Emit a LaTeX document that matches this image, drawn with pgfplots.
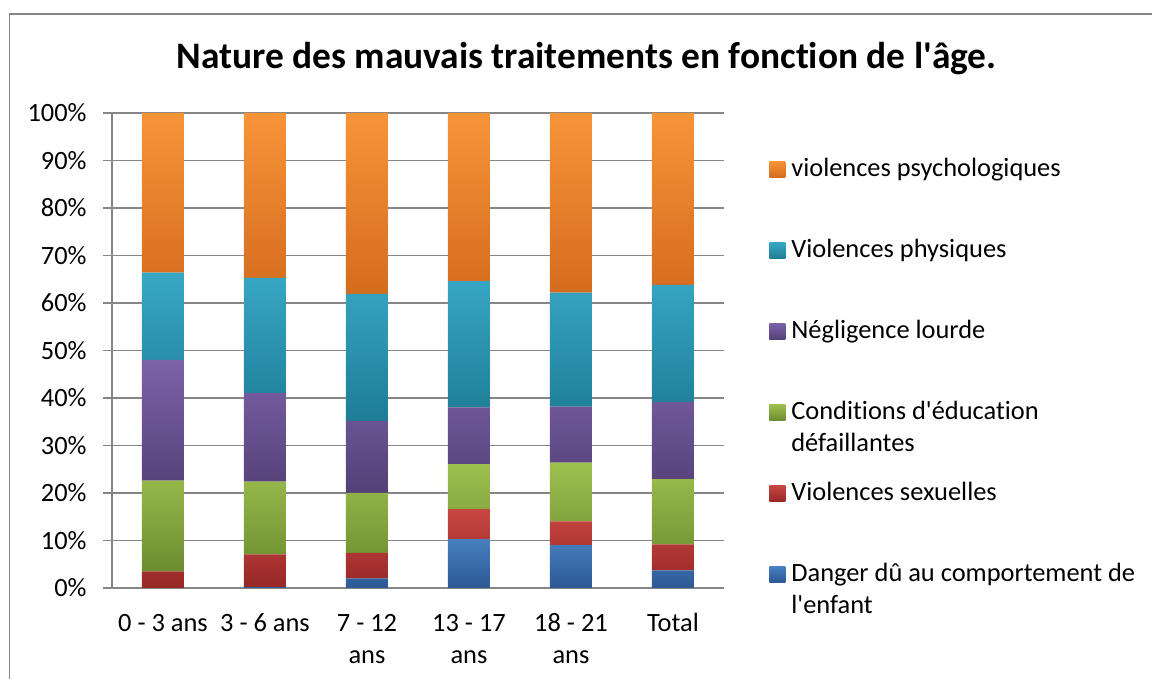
\documentclass[border=0pt]{standalone}
\usepackage{pgfplots}
\pgfplotsset{compat=1.18}
\usepackage{pgfplotstable}
\usepackage{fontspec}
\setmainfont{Carlito}[Ligatures={TeXOff,NoCommon}]

\definecolor{gridgray}{RGB}{134,134,134}
\definecolor{blueT}{RGB}{72,128,192}\definecolor{blueB}{RGB}{44,88,148}
\definecolor{redT}{RGB}{200,70,66}\definecolor{redB}{RGB}{150,40,38}
\definecolor{greenT}{RGB}{158,192,78}\definecolor{greenB}{RGB}{108,140,48}
\definecolor{purpT}{RGB}{124,98,168}\definecolor{purpB}{RGB}{84,64,120}
\definecolor{tealT}{RGB}{56,168,198}\definecolor{tealB}{RGB}{30,124,150}
\definecolor{orT}{RGB}{247,148,56}\definecolor{orB}{RGB}{212,108,30}

\newcommand\twoc[2]{\vtop{\halign{\hfil##\hfil\cr#1\cr#2\cr}}}
\newcommand\twol[2]{\vtop{\hbox{#1}\hbox{#2}}}

\pgfplotstableread{
x danger sex edu negl phys psych
0 0.0 3.5 19.1 25.4 18.4 33.6
1 0.2 6.9 15.3 18.7 24.2 34.7
2 2.0 5.4 12.6 15.2 26.7 38.1
3 10.3 6.3 9.5 11.9 26.6 35.4
4 9.0 5.0 12.4 11.8 24.0 37.8
5 3.7 5.5 13.7 16.3 24.6 36.2
}\data

\begin{document}
\begin{tikzpicture}[font=\fontsize{13.2bp}{16bp}\selectfont]
\useasboundingbox (0,0) rectangle (576bp,339.5bp);
\clip (0,0) rectangle (576bp,339.5bp);
\draw[gridgray, line width=0.75bp] (4.75bp,-10bp) rectangle (600bp,332.5bp);
\node[font=\fontsize{18.7bp}{22bp}\selectfont\bfseries, anchor=base] at (293.25bp,305bp)
  {Nature des mauvais traitements en fonction de l'âge.};
\begin{axis}[
  at={(56bp,45.5bp)}, anchor=south west, scale only axis,
  width=306bp, height=237.5bp,
  xmin=-0.5, xmax=5.5, ymin=0, ymax=100,
  ybar stacked, bar width=21bp,
  axis x line*=bottom, axis y line*=left,
  axis line style={gridgray, line width=0.75bp},
  ymajorgrids, major grid style={gridgray, line width=0.75bp},
  ytick={0,10,...,100},
  yticklabels={0\%,10\%,20\%,30\%,40\%,50\%,60\%,70\%,80\%,90\%,100\%},
  xtick={0,...,5},
  xticklabels={{0 - 3 ans},{3 - 6 ans},{\twoc{7 - 12}{ans}},{\twoc{13 - 17}{ans}},{\twoc{18 - 21}{ans}},{Total}},
  tick align=outside, major tick length=4.5bp,
  major tick style={gridgray, line width=0.75bp},
  xtick style={draw=none},
  extra x ticks={-0.5,0.5,1.5,2.5,3.5,4.5,5.5},
  extra x tick labels={},
  extra x tick style={draw=gridgray, major tick length=3.5bp, grid=none},
  xticklabel style={anchor=base, inner sep=0pt, yshift=-17bp},
  yticklabel style={anchor=east, inner sep=0pt, xshift=-8bp},
  reverse legend,
  legend image code/.code={\path[#1,draw=none] (0bp,-0.5bp) rectangle (8bp,7.5bp);},
  legend style={at={(1.0735,0.9095)}, anchor=north west, draw=none, fill=none,
    inner sep=0pt, column sep=3bp, row sep=27.5bp,
    nodes={inner sep=0pt, text height=10bp, text depth=3bp},
    cells={anchor=base west}},
]
\addplot[top color=blueT, bottom color=blueB, draw=none] table[x=x,y=danger]{\data};
\addlegendentry{\twol{Danger dû au comportement de}{l'enfant}}
\addplot[top color=redT, bottom color=redB, draw=none] table[x=x,y=sex]{\data};
\addlegendentry{Violences sexuelles}
\addplot[top color=greenT, bottom color=greenB, draw=none] table[x=x,y=edu]{\data};
\addlegendentry{\twol{Conditions d'éducation}{défaillantes}}
\addplot[top color=purpT, bottom color=purpB, draw=none] table[x=x,y=negl]{\data};
\addlegendentry{Négligence lourde}
\addplot[top color=tealT, bottom color=tealB, draw=none] table[x=x,y=phys]{\data};
\addlegendentry{Violences physiques}
\addplot[top color=orT, bottom color=orB, draw=none] table[x=x,y=psych]{\data};
\addlegendentry{violences psychologiques}
\end{axis}
\end{tikzpicture}
\end{document}
